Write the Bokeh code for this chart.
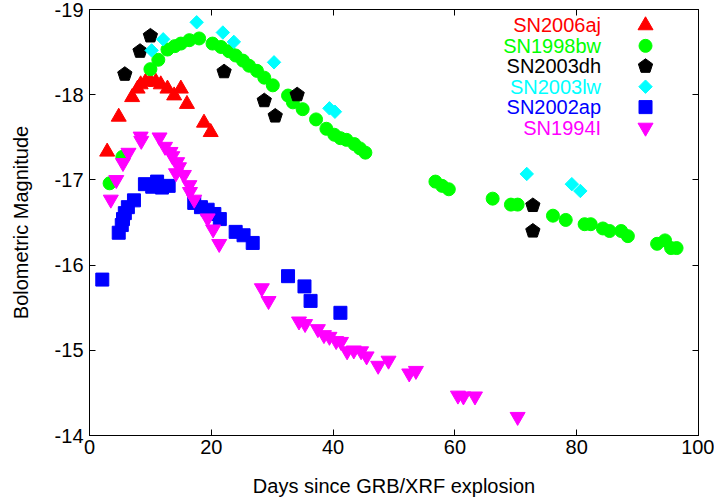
from bokeh.plotting import figure
from bokeh.models import Range1d, LinearAxis, FixedTicker, ColumnDataSource
from bokeh.core.properties import value
from bokeh.embed import file_html
from bokeh.resources import INLINE

# ---------------- data ----------------
aj_x = [2.9, 4.8, 7.0, 7.9, 8.4, 9.2, 10.0, 10.9, 11.7, 12.8, 13.9, 15.0, 16.0, 18.8, 19.9]
aj_y = [-17.33, -17.74, -17.97, -18.07, -18.12, -18.15, -18.16, -18.15, -18.12, -18.07, -17.99, -18.07, -17.89, -17.67, -17.56]

bw_x = [3.3, 5.4, 10.0, 11.3, 12.8, 14.0, 15.0, 16.4, 18.0, 20.2, 21.6, 22.9, 24.0, 25.2, 26.2, 27.5, 28.7, 30.1,
        32.6, 33.4, 35.0, 37.2, 38.9, 40.2, 41.2, 42.2, 43.5, 44.4, 45.3,
        56.8, 57.9, 59.0, 66.2, 69.2, 70.3, 76.1, 78.2, 81.3, 82.3, 84.3, 85.4, 87.3, 88.4, 93.2, 94.5, 95.5, 96.4]
bw_y = [-16.96, -17.27, -18.30, -18.41, -18.53, -18.57, -18.60, -18.64, -18.66, -18.60, -18.56, -18.51, -18.46, -18.40, -18.34, -18.28, -18.20, -18.11,
        -17.99, -17.91, -17.83, -17.71, -17.60, -17.53, -17.49, -17.47, -17.42, -17.37, -17.32,
        -16.98, -16.93, -16.89, -16.78, -16.71, -16.71, -16.58, -16.53, -16.48, -16.48, -16.43, -16.40, -16.40, -16.34, -16.25, -16.29, -16.20, -16.20]

dh_x = [5.8, 8.3, 10.0, 22.1, 28.7, 30.5, 34.1, 72.8, 72.8]
dh_y = [-18.24, -18.51, -18.69, -18.27, -17.93, -17.75, -18.00, -16.70, -16.40]

lw_x = [10.2, 12.1, 17.6, 21.9, 23.7, 30.3, 39.4, 40.3, 71.8, 79.2, 80.6]
lw_y = [-18.52, -18.65, -18.85, -18.73, -18.62, -18.38, -17.84, -17.80, -17.07, -16.95, -16.87]

ap_x = [2.1, 4.8, 5.3, 5.5, 5.8, 6.3, 7.3, 9.1, 10.3, 11.1, 11.9, 13.0, 17.2, 18.3, 19.4, 20.5, 21.4, 24.0, 25.3, 26.8,
        32.6, 35.3, 36.3, 41.2]
ap_y = [-15.83, -16.38, -16.47, -16.54, -16.61, -16.68, -16.76, -16.95, -16.92, -16.98, -16.91, -16.93, -16.73, -16.68, -16.65, -16.60, -16.54, -16.39, -16.35, -16.26,
        -15.87, -15.75, -15.58, -15.44]

i_x = [3.5, 4.4, 5.5, 6.4, 8.4, 8.5, 11.5, 12.4, 13.3, 13.6, 14.2, 14.4, 14.7, 15.5, 16.4, 16.5, 17.2, 19.4, 20.3, 21.3,
       28.3, 29.4, 34.4, 35.4, 37.5, 38.5, 39.4, 40.5, 41.3, 42.3, 43.4, 44.6, 45.5, 47.4, 49.1, 52.5, 53.6, 60.5, 61.4, 63.3, 70.3]
i_y = [-16.77, -17.00, -17.20, -17.32, -17.51, -17.46, -17.50, -17.39, -17.33, -17.28, -17.08, -17.21, -17.15, -17.06, -16.94, -16.86, -16.77, -16.55, -16.42, -16.25,
       -15.73, -15.58, -15.34, -15.31, -15.25, -15.18, -15.16, -15.11, -15.10, -14.99, -15.00, -14.99, -14.93, -14.82, -14.88, -14.73, -14.76, -14.47, -14.46, -14.46, -14.22]

names = ["SN2006aj", "SN1998bw", "SN2003dh", "SN2003lw", "SN2002ap", "SN1994I"]
colors = ["#ff0000", "#00ff00", "#000000", "#00ffff", "#0000ff", "#ff00ff"]

x_ticks = [0, 20, 40, 60, 80, 100]
y_ticks = [-19, -18, -17, -16, -15, -14]

FONT = "Liberation Sans"
FS = "20px"
PENT_ANGLE = 0.0
PENT_R = 7.5
DIAMOND_ANGLE = 0.785398  # square rotated 45 degrees
DIAMOND_SIZE = 9.5

p = figure(width=714, height=502, output_backend="svg", toolbar_location=None,
           x_range=Range1d(0, 100), y_range=Range1d(-14, -19),
           min_border_left=89, min_border_right=16, min_border_top=9, min_border_bottom=67)
p.grid.visible = False
p.outline_line_color = "black"
p.outline_line_width = 1
p.background_fill_color = "white"
p.border_fill_color = "white"

for ax in (p.xaxis[0], p.yaxis[0]):
    ax.major_tick_in = 6
    ax.major_tick_out = 0
    ax.minor_tick_line_color = None
    ax.axis_line_color = "black"
    ax.major_tick_line_color = "black"
    ax.major_label_text_font = FONT
    ax.major_label_text_font_size = FS
    ax.major_label_text_color = "black"
    ax.axis_label_text_font = FONT
    ax.axis_label_text_font_size = FS
    ax.axis_label_text_font_style = "normal"
    ax.axis_label_text_color = "black"

p.xaxis.ticker = FixedTicker(ticks=x_ticks)
p.yaxis.ticker = FixedTicker(ticks=y_ticks)
p.yaxis.major_label_overrides = {t: str(t) for t in y_ticks}
p.xaxis.axis_label = "Days since GRB/XRF explosion"
p.yaxis.axis_label = "Bolometric Magnitude"
p.xaxis.major_label_standoff = 4
p.yaxis.major_label_standoff = 6
p.xaxis.axis_label_standoff = 18
p.yaxis.axis_label_standoff = 20

# mirrored inward ticks on top and right
top = LinearAxis(ticker=FixedTicker(ticks=x_ticks), major_tick_in=6, major_tick_out=0,
                 minor_tick_line_color=None, axis_line_color="black",
                 major_label_overrides={t: "" for t in x_ticks}, major_label_standoff=0)
right = LinearAxis(ticker=FixedTicker(ticks=y_ticks), major_tick_in=6, major_tick_out=0,
                   minor_tick_line_color=None, axis_line_color="black",
                   major_label_overrides={t: "" for t in y_ticks}, major_label_standoff=0)
p.add_layout(top, "above")
p.add_layout(right, "right")

# data
p.scatter(aj_x, aj_y, marker="triangle", size=15, color=colors[0])
p.scatter(bw_x, bw_y, marker="circle", size=13, color=colors[1])
p.ngon(x=dh_x, y=dh_y, radius=PENT_R, radius_units="screen", n=5, angle=PENT_ANGLE, color=colors[2])
p.scatter(lw_x, lw_y, marker="square", size=DIAMOND_SIZE, angle=DIAMOND_ANGLE, color=colors[3])
p.scatter(ap_x, ap_y, marker="square", size=13, color=colors[4])
p.scatter(i_x, i_y, marker="inverted_triangle", size=15, color=colors[5])

# legend (label right-aligned, symbol to its right)
leg_text_x = 84.0
leg_sym_x = 91.3
leg_top = -18.813
leg_step = 0.2397
leg_y = [leg_top + k * leg_step for k in range(len(names))]
src = ColumnDataSource(dict(x=[leg_text_x] * len(names), y=leg_y, text=names, color=colors))
p.text(x="x", y="y", text="text", text_color="color", source=src, text_align="right",
       text_baseline="middle", text_font=value(FONT), text_font_size=value(FS))
markers = ["triangle", "circle", None, "square", "square", "inverted_triangle"]
msize = [15, 13, None, DIAMOND_SIZE, 13, 15]
mangle = [0, 0, 0, DIAMOND_ANGLE, 0, 0]
for k, m in enumerate(markers):
    if m is None:
        p.ngon(x=[leg_sym_x], y=[leg_y[k]], radius=PENT_R, radius_units="screen", n=5, angle=PENT_ANGLE, color=colors[k])
    else:
        p.scatter([leg_sym_x], [leg_y[k]], marker=m, size=msize[k], angle=mangle[k], color=colors[k])

open("out.html", "w").write(file_html(p, INLINE))
